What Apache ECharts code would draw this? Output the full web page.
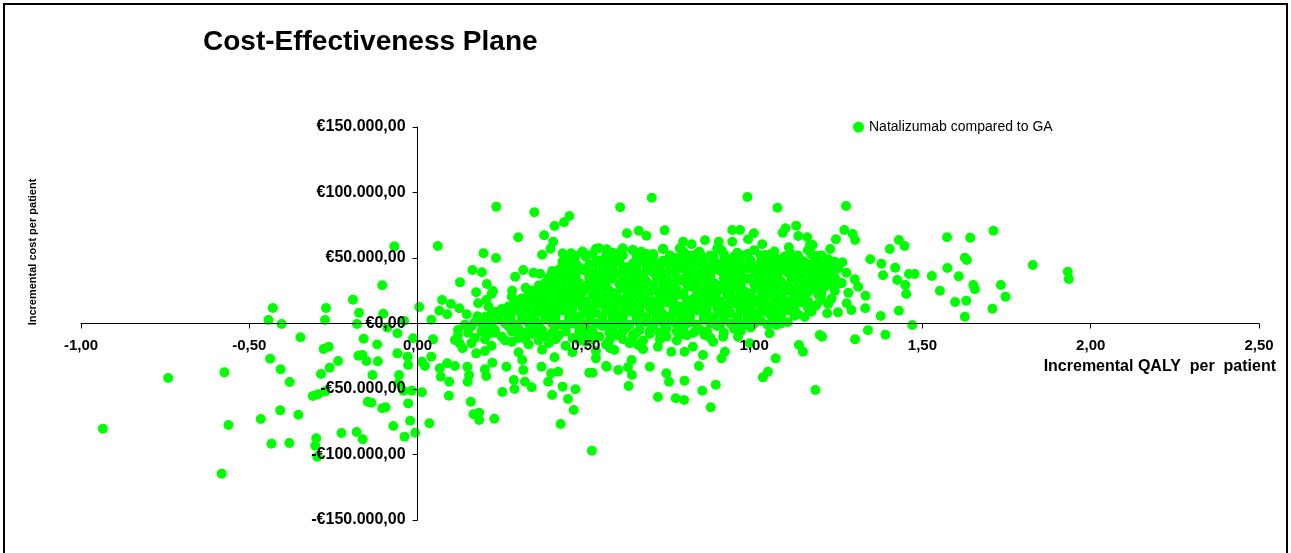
<!DOCTYPE html>
<html>
<head>
<meta charset="utf-8">
<title>Cost-Effectiveness Plane</title>
<script src="https://cdn.jsdelivr.net/npm/echarts@6/dist/echarts.min.js"></script>
<style>
  html, body { margin: 0; padding: 0; background: #fff; }
  #chart { width: 1291px; height: 553px; }
</style>
</head>
<body>
<div id="chart"></div>
<script>
// Incremental QALY vs incremental cost (cost in thousands of euro)

// axis ranges / ticks
const qalyTicks = [-1, -0.5, 0, 0.5, 1, 1.5, 2, 2.5];
const costTicks = [-150000, -100000, -50000, 0, 50000, 100000, 150000];

// dominated / less effective side
const leftTail = [
  [-0.935,-80.3],[-0.741,-41.6],[-0.574,-37.3],[-0.562,-77.5],[-0.582,-114.6],[-0.466,-72.9],
  [-0.438,-26.9],[-0.434,-91.8],[-0.43,11.8],[-0.443,2.7],[-0.404,-0.4],[-0.408,-66.3],
  [-0.407,-35],[-0.381,-91.2],[-0.38,-44.7],[-0.354,-69.6],[-0.348,-10.5],[-0.311,-55.3],
  [-0.304,-93.3],[-0.301,-87.6],[-0.298,-101.7],[-0.296,-54],[-0.287,-38.5],[-0.279,-19.5],
  [-0.275,2.7],[-0.274,-51.8],[-0.272,11.8],[-0.264,-17.7],[-0.261,-33.7],[-0.236,-28.6],
  [-0.226,-83.6],[-0.192,18.2],[-0.181,-82.8],[-0.18,-0.4],[-0.176,-24.6],[-0.174,8.3],
  [-0.164,-24],[-0.163,-88.4],[-0.16,-11.6],[-0.152,-28.6],[-0.148,-59.7],[-0.137,-60.5],
  [-0.134,-39.3],[-0.118,-28.9],[-0.12,-16],[-0.105,29.2],[-0.105,-64.7],[-0.102,7.5],
  [-0.09,-3],[-0.095,-64],[-0.072,-78.2],[-0.069,58.9],[-0.06,-7.5],[-0.06,-22.8],
  [-0.057,-45.6],[-0.055,-39.3],[-0.042,-51.3],[-0.04,2],[-0.039,-86.4],[-0.03,-25.3],
  [-0.028,-31.7],[-0.028,-61],[-0.022,-74.2],[-0.017,-51.3],[-0.013,-11.3],[-0.007,-83.4]
];

// cost saving part of the effective side
const lowerSide = [
  [0.013,-52.5],[0.013,-29.2],[0.022,-32.4],[0.035,-76.2],[0.041,-25.3],[0.046,-12.1],
  [0.066,-34.2],[0.069,-40.6],[0.088,-30.4],[0.093,-55.1],[0.094,-44.4],[0.111,-32.4],
  [0.111,-12.6],[0.125,-15.1],[0.134,-18.9],[0.148,-33],[0.149,-44.4],[0.153,-39.3],
  [0.158,-59.7],[0.166,-69.3],[0.174,-22.8],[0.183,-68.1],[0.183,-73.7],[0.2,-35],
  [0.204,-40.1],[0.222,-29.9],[0.228,-72.7],[0.252,-52.3],[0.264,-33],[0.286,-43.1],
  [0.288,-50],[0.311,-27.9],[0.314,-35.5],[0.319,-44.4],[0.339,-48.7],[0.368,-33],
  [0.388,-44.4],[0.397,-38],[0.4,-54.6],[0.407,-25.8],[0.418,-36.8],[0.425,-76.7],
  [0.431,-48.2],[0.447,-57.6],[0.464,-66],[0.469,-50.2],[0.51,-37.6],[0.518,-97.1],
  [0.52,-37.6],[0.53,-26.6],[0.56,-32.4],[0.562,-33],[0.596,-35.5],[0.572,-18.9],
  [0.585,-20.2],[0.625,-33.4],[0.637,-39.3],[0.627,-47.7],[0.636,-27.9],[0.69,-33],
  [0.714,-56.1],[0.739,-38],[0.747,-44.4],[0.767,-57.1],[0.792,-58.4],[0.793,-43.7],
  [0.846,-51.3],[0.871,-64],[0.886,-46.7],[0.836,-32.4],[0.848,-24],[0.903,-26.6],
  [0.754,-21.5],[0.793,-21.5],[0.818,-17.7],[0.714,-17.7],[0.67,-19.7],[0.655,-16.4],
  [0.562,-16.4],[0.6,-8.8],[0.64,-8.8],[0.779,-8.8],[0.853,-8.8],[0.878,-13.9],
  [0.913,-21.5],[0.908,-10.1],[0.952,-10.1],[0.987,-15.1],[1.046,-7.5],[1.064,-26.6],
  [1.041,-36.8],[1.026,-41.1],[1.133,-16.4],[1.145,-21.5],[1.182,-50.8],[1.066,-1.1],
  [1.195,-8.8],[1.202,-10.1],[1.3,-12.1],[1.338,-5.2],[1.39,-8.5],[1.47,-1.1]
];

// scattered points above the axis, left of the main cloud
const upperLeft = [
  [0.005,12.6],[0.041,2.9],[0.06,59.2],[0.065,9.8],[0.073,17.9],[0.088,7],[0.099,14.9],
  [0.124,11.6],[0.126,31.4],[0.146,7],[0.163,40.8],[0.174,23.8],[0.178,5.5],[0.18,15.4],
  [0.191,39.1],[0.196,53.6],[0.204,17.9],[0.206,30.2],[0.211,12.8],[0.22,22.5],[0.224,24.8],
  [0.233,50],[0.233,9],[0.234,89.2],[0.276,5.2],[0.28,20.5],[0.281,25],[0.286,13.6],
  [0.29,35.7],[0.299,65.8],[0.314,40.8],[0.321,27.3],[0.329,13.6],[0.343,21],[0.344,38.8],
  [0.347,84.9],[0.354,11.3],[0.364,38],[0.37,27.6],[0.37,52.5],[0.376,67.3],[0.382,17.9],
  [0.395,57.1],[0.399,27.3],[0.4,38.3],[0.403,62.4],[0.407,74.4],[0.416,22.3],[0.417,37],
  [0.429,43.4],[0.431,53.6],[0.435,77.3],[0.451,82.1],[0.451,33.2],[0.456,53.6],[0.482,42.1],
  [0.495,53.6],[0.497,26.9],[0.525,35.7],[0.539,57.4],[0.554,47.2],[0.562,56.6]
];

// top edge of the main cloud
const upperMid = [
  [0.602,88.7],[0.696,96],[0.98,96.6],[1.069,88.4],[0.622,68.9],[0.657,70.8],[0.68,67],
  [0.734,71.1],[0.789,62.4],[0.814,60.5],[0.854,63.5],[0.895,62.4],[0.935,71.4],[0.958,71.4],
  [0.935,62.4],[0.999,68.9],[1.024,60.5],[0.982,64.3],[1.093,72.7],[1.125,74.7],[1.085,69.3],
  [1.131,66.8],[1.158,65.8],[1.166,59.9],[1.103,58.2],[0.61,57.4],[0.585,51.5],[0.64,56.1],
  [0.665,54.8],[0.729,56.9],[0.779,57.4],[0.837,54.8],[0.869,51],[0.903,56.1],[0.908,47.2],
  [0.948,48.5],[1.031,52.3],[1.091,51],[1.136,48.5],[0.691,48.5],[0.574,38.3]
];

// right hand tail
const rightTail = [
  [1.273,89.7],[1.268,71.4],[1.293,68.3],[1.3,63.7],[1.243,64.3],[1.226,56.9],[1.174,59.9],
  [1.189,51.5],[1.239,47.2],[1.262,46.7],[1.274,38.8],[1.299,33.7],[1.309,28.1],[1.331,21.2],
  [1.28,23.5],[1.275,15.4],[1.289,10.3],[1.249,8.5],[1.217,7.8],[1.185,14.1],[1.185,35.7],
  [1.21,35.7],[1.234,34.5],[1.256,30.7],[1.185,28.1],[1.33,11.6],[1.345,49],[1.378,45.6],
  [1.403,56.9],[1.43,63.7],[1.447,59.2],[1.419,42.6],[1.383,36.8],[1.425,33.2],[1.449,29.4],
  [1.452,22.5],[1.46,37.8],[1.477,37.8],[1.376,5.7],[1.43,9.8],[1.573,65.8],[1.642,65.5],
  [1.711,70.8],[1.574,42.4],[1.528,36.3],[1.608,36],[1.626,50.2],[1.632,48.5],[1.552,25],
  [1.597,16.4],[1.63,17.4],[1.651,29.4],[1.656,26.1],[1.626,5.2],[1.708,11.3],[1.733,29.4],
  [1.747,20.5],[1.828,44.7],[1.932,39.5],[1.935,34]
];

// the dense core, estimated row by row
const coreCloud = [
  [0.49,55],[0.53,57],[0.58,54],[0.64,56],[0.68,53],[0.73,57],[0.79,55],[0.84,53],[0.89,57],
  [0.95,54],[1.0,56],[1.06,55],[1.11,53],[1.16,56],
  [0.45,49],[0.5,51],[0.54,48],[0.57,50],[0.61,52],[0.66,49],[0.7,51],[0.73,48],[0.77,50],
  [0.81,52],[0.85,48],[0.88,51],[0.92,49],[0.96,52],[0.99,48],[1.03,50],[1.07,49],[1.1,52],
  [1.14,48],[1.18,50],[1.22,49],
  [0.44,46],[0.48,43],[0.51,45],[0.55,44],[0.58,46],[0.62,43],[0.65,45],[0.69,46],[0.72,43],
  [0.75,45],[0.79,44],[0.82,46],[0.86,43],[0.89,45],[0.93,44],[0.96,46],[1.0,43],[1.03,45],
  [1.06,44],[1.1,46],[1.13,43],[1.17,45],[1.2,44],[1.24,43],
  [0.4,40],[0.43,37],[0.46,39],[0.5,40],[0.53,37],[0.56,39],[0.6,38],[0.63,40],[0.66,37],
  [0.7,39],[0.73,38],[0.76,40],[0.8,37],[0.83,39],[0.86,38],[0.9,40],[0.93,37],[0.96,39],
  [1.0,38],[1.03,40],[1.06,37],[1.1,39],[1.13,38],[1.16,40],[1.19,37],[1.23,39],
  [0.38,31],[0.42,33],[0.45,34],[0.48,31],[0.52,33],[0.55,32],[0.58,34],[0.62,31],[0.65,33],
  [0.68,32],[0.72,34],[0.75,31],[0.78,33],[0.82,32],[0.85,34],[0.88,31],[0.92,33],[0.95,32],
  [0.98,34],[1.02,31],[1.05,33],[1.08,32],[1.12,34],[1.15,31],[1.18,33],[1.22,32],[1.26,31],
  [0.34,25],[0.37,27],[0.41,28],[0.44,25],[0.47,27],[0.51,26],[0.54,28],[0.57,25],[0.61,27],
  [0.64,26],[0.67,28],[0.71,25],[0.74,27],[0.77,26],[0.81,28],[0.84,25],[0.87,27],[0.91,26],
  [0.94,28],[0.97,25],[1.01,27],[1.04,26],[1.07,28],[1.11,25],[1.14,27],[1.17,26],[1.21,28],
  [1.24,25],
  [0.31,19],[0.35,21],[0.38,22],[0.42,19],[0.45,21],[0.48,20],[0.52,22],[0.55,19],[0.58,21],
  [0.62,20],[0.65,22],[0.68,19],[0.72,21],[0.75,20],[0.78,22],[0.82,19],[0.85,21],[0.88,20],
  [0.92,22],[0.95,19],[0.98,21],[1.02,20],[1.05,22],[1.08,19],[1.12,21],[1.15,20],[1.19,22],
  [1.23,19],
  [0.27,13],[0.31,15],[0.34,16],[0.38,13],[0.41,15],[0.44,14],[0.48,16],[0.51,13],[0.54,15],
  [0.58,14],[0.61,16],[0.64,13],[0.68,15],[0.71,14],[0.74,16],[0.78,13],[0.81,15],[0.84,14],
  [0.88,16],[0.91,13],[0.94,15],[0.98,14],[1.01,16],[1.04,13],[1.08,15],[1.11,14],[1.14,16],
  [1.18,13],[1.22,15],
  [0.22,7],[0.26,9],[0.29,10],[0.33,7],[0.36,9],[0.4,8],[0.43,10],[0.46,7],[0.5,9],[0.53,8],
  [0.56,10],[0.6,7],[0.63,9],[0.66,8],[0.7,10],[0.73,7],[0.76,9],[0.8,8],[0.83,10],[0.86,7],
  [0.9,9],[0.93,8],[0.96,10],[1.0,7],[1.03,9],[1.07,8],[1.1,10],[1.13,7],[1.17,9],
  [0.17,1],[0.21,3],[0.24,4],[0.28,1],[0.31,3],[0.35,2],[0.38,4],[0.41,1],[0.45,3],[0.48,2],
  [0.51,4],[0.55,1],[0.58,3],[0.61,2],[0.65,4],[0.68,1],[0.71,3],[0.75,2],[0.78,4],[0.81,1],
  [0.85,3],[0.88,2],[0.91,4],[0.95,1],[0.98,3],[1.02,2],[1.06,4],[1.1,1],
  [0.12,-5],[0.16,-2],[0.2,-4],[0.23,-5],[0.27,-2],[0.3,-4],[0.34,-3],[0.37,-5],[0.41,-2],
  [0.44,-4],[0.48,-3],[0.51,-5],[0.55,-2],[0.58,-4],[0.62,-3],[0.66,-5],[0.7,-2],[0.74,-4],
  [0.79,-3],[0.84,-5],[0.89,-2],[0.94,-4],[0.99,-3],
  [0.12,-9],[0.17,-11],[0.21,-8],[0.25,-10],[0.3,-11],[0.34,-8],[0.38,-10],[0.42,-9],
  [0.46,-11],[0.5,-8],[0.54,-10],[0.59,-9],[0.64,-11],[0.69,-8],[0.74,-10],[0.8,-9],[0.87,-11],
  [0.16,-15],[0.22,-17],[0.28,-14],[0.33,-16],[0.39,-15],[0.44,-17],[0.5,-14],[0.56,-16],
  [0.63,-15],
  [0.2,-21],[0.3,-22],[0.37,-20],[0.46,-22],[0.53,-21]
];

// second pass over the core, between the rows above
const coreFill = [
  [0.47,52],[0.52,53],[0.56,52],[0.6,54],[0.65,52],[0.7,53],[0.75,52],[0.79,51],[0.83,53],
  [0.87,52],[0.91,53],[0.94,51],[0.98,53],[1.02,52],[1.05,53],[1.09,51],[1.13,52],[1.17,53],
  [1.2,52],
  [0.43,47],[0.47,46],[0.53,47],[0.57,46],[0.6,47],[0.64,46],[0.67,47],[0.71,46],[0.74,47],
  [0.77,46],[0.8,47],[0.84,46],[0.88,47],[0.91,46],[0.95,47],[0.98,46],[1.02,47],[1.05,46],
  [1.08,47],[1.12,46],[1.15,47],[1.19,46],[1.22,47],
  [0.42,41],[0.45,42],[0.49,41],[0.52,42],[0.55,41],[0.58,42],[0.61,41],[0.65,42],[0.68,41],
  [0.71,42],[0.75,41],[0.78,42],[0.81,41],[0.85,42],[0.88,41],[0.92,42],[0.95,41],[0.98,42],
  [1.02,41],[1.05,42],[1.08,41],[1.12,42],[1.15,41],[1.18,42],[1.21,41],[1.25,42],
  [0.39,35],[0.41,36],[0.44,35],[0.47,36],[0.51,35],[0.54,36],[0.57,35],[0.61,36],[0.64,35],
  [0.67,36],[0.71,35],[0.74,36],[0.77,35],[0.81,36],[0.84,35],[0.87,36],[0.91,35],[0.94,36],
  [0.97,35],[1.01,36],[1.04,35],[1.07,36],[1.11,35],[1.14,36],[1.17,35],[1.21,36],[1.24,35],
  [0.36,29],[0.4,30],[0.43,29],[0.46,30],[0.5,29],[0.53,30],[0.56,29],[0.6,30],[0.63,29],
  [0.66,30],[0.7,29],[0.73,30],[0.76,29],[0.8,30],[0.83,29],[0.86,30],[0.9,29],[0.93,30],
  [0.96,29],[1.0,30],[1.03,29],[1.06,30],[1.1,29],[1.13,30],[1.16,29],[1.2,30],[1.23,29],
  [0.33,23],[0.36,24],[0.39,23],[0.43,24],[0.46,23],[0.49,24],[0.53,23],[0.56,24],[0.59,23],
  [0.63,24],[0.66,23],[0.69,24],[0.73,23],[0.76,24],[0.79,23],[0.83,24],[0.86,23],[0.89,24],
  [0.93,23],[0.96,24],[0.99,23],[1.03,24],[1.06,23],[1.09,24],[1.13,23],[1.16,24],[1.2,23],
  [0.29,17],[0.33,18],[0.36,17],[0.4,18],[0.43,17],[0.46,18],[0.5,17],[0.53,18],[0.56,17],
  [0.6,18],[0.63,17],[0.66,18],[0.7,17],[0.73,18],[0.76,17],[0.8,18],[0.83,17],[0.86,18],
  [0.9,17],[0.93,18],[0.96,17],[1.0,18],[1.03,17],[1.06,18],[1.1,17],[1.13,18],[1.16,17],
  [1.2,18],
  [0.25,11],[0.29,12],[0.32,11],[0.36,12],[0.39,11],[0.42,12],[0.46,11],[0.49,12],[0.52,11],
  [0.56,12],[0.59,11],[0.62,12],[0.66,11],[0.69,12],[0.72,11],[0.76,12],[0.79,11],[0.82,12],
  [0.86,11],[0.89,12],[0.92,11],[0.96,12],[0.99,11],[1.02,12],[1.06,11],[1.09,12],[1.12,11],
  [1.16,12],
  [0.2,5],[0.24,6],[0.27,5],[0.31,6],[0.34,5],[0.38,6],[0.41,5],[0.45,6],[0.48,5],[0.51,6],
  [0.55,5],[0.58,6],[0.61,5],[0.65,6],[0.68,5],[0.71,6],[0.75,5],[0.78,6],[0.81,5],[0.85,6],
  [0.88,5],[0.91,6],[0.95,5],[0.98,6],[1.01,5],[1.05,6],[1.08,5],[1.12,6],[1.15,5],
  [0.14,-1],[0.19,0],[0.22,-1],[0.26,0],[0.29,-1],[0.33,0],[0.36,-1],[0.4,0],[0.43,-1],
  [0.46,0],[0.5,-1],[0.53,0],[0.56,-1],[0.6,0],[0.63,-1],[0.66,0],[0.7,-1],[0.73,0],[0.77,-1],
  [0.8,0],[0.83,-1],[0.87,0],[0.9,-1],[0.93,0],[0.97,-1],[1.0,0],[1.04,-1],[1.08,0],
  [0.15,-7],[0.19,-6],[0.23,-7],[0.28,-6],[0.32,-7],[0.36,-6],[0.4,-7],[0.44,-6],[0.48,-7],
  [0.52,-6],[0.57,-7],[0.61,-6],[0.65,-7],[0.69,-6],[0.72,-7],[0.77,-6],[0.82,-7],[0.86,-6],
  [0.91,-7],[0.96,-6],
  [0.2,-12],[0.26,-13],[0.32,-12],[0.36,-13],[0.41,-12],[0.48,-13],[0.52,-12],[0.57,-13],
  [0.61,-12],[0.67,-13],[0.72,-12],[0.77,-13]
];

const seriesName = 'Natalizumab compared to GA';
const FONT = '"Liberation Sans", Arial, Helvetica, sans-serif';

// plot box in pixels
const GRID = { left: 81, top: 127, width: 1178, height: 393 };

const xMin = qalyTicks[0], xMax = qalyTicks[qalyTicks.length - 1];
const yMin = costTicks[0], yMax = costTicks[costTicks.length - 1];
// axes cross at zero: shift the left / bottom axes in to the zero lines
const yAxisShift = GRID.width * (0 - xMin) / (xMax - xMin);
const xAxisShift = GRID.height * (0 - yMin) / (yMax - yMin);

const points = []
  .concat(leftTail, lowerSide, upperLeft, upperMid, rightTail, coreCloud, coreFill)
  .map(p => [p[0], p[1] * 1000]);

function euro(v) {
  const sign = v < 0 ? '-' : '';
  const whole = String(Math.round(Math.abs(v))).replace(/\B(?=(\d{3})+(?!\d))/g, '.');
  return sign + '€' + whole + ',00';
}

const chart = echarts.init(document.getElementById('chart'));

chart.setOption({
  animation: false,
  backgroundColor: '#ffffff',
  textStyle: { fontFamily: FONT },
  title: {
    text: 'Cost-Effectiveness Plane',
    left: 198,
    top: 23,
    textStyle: { fontFamily: FONT, fontSize: 28, fontWeight: 'bold', color: '#000' }
  },
  legend: {
    data: [seriesName],
    left: 853,
    top: 120,
    padding: 0,
    icon: 'circle',
    itemWidth: 11,
    itemHeight: 11,
    itemGap: 4,
    textStyle: { fontFamily: FONT, fontSize: 14, color: '#000' }
  },
  grid: {
    left: GRID.left,
    top: GRID.top,
    width: GRID.width,
    height: GRID.height,
    containLabel: false,
    outerBoundsMode: 'none'
  },
  xAxis: {
    type: 'value',
    position: 'bottom',
    offset: -xAxisShift,
    z: 5,
    min: xMin,
    max: xMax,
    interval: 0.5,
    axisLine: { onZero: false, lineStyle: { color: '#000', width: 1 } },
    axisTick: { show: true, length: 5, lineStyle: { color: '#000' } },
    axisLabel: {
      margin: 15,
      color: '#000',
      fontFamily: FONT,
      fontSize: 15,
      fontWeight: 'bold',
      formatter: v => v.toFixed(2).replace('.', ',')
    },
    splitLine: { show: false }
  },
  yAxis: {
    type: 'value',
    position: 'left',
    offset: -yAxisShift,
    z: 5,
    min: yMin,
    max: yMax,
    interval: 50000,
    axisLine: { onZero: false, lineStyle: { color: '#000', width: 1 } },
    axisTick: { show: true, length: 5, lineStyle: { color: '#000' } },
    axisLabel: {
      margin: 12,
      color: '#000',
      fontFamily: FONT,
      fontSize: 16,
      fontWeight: 'bold',
      formatter: euro
    },
    splitLine: { show: false }
  },
  graphic: [
    {
      type: 'rect',
      shape: { x: 4, y: 4, width: 1283, height: 560 },
      style: { fill: null, stroke: '#000', lineWidth: 2 },
      silent: true
    },
    {
      type: 'text',
      x: 1276,
      y: 367,
      style: {
        text: 'Incremental QALY  per  patient',
        font: 'bold 16px ' + FONT,
        fill: '#000',
        align: 'right',
        verticalAlign: 'middle'
      }
    },
    {
      type: 'text',
      x: 33,
      y: 252,
      rotation: Math.PI / 2,
      style: {
        text: 'Incremental cost per patient',
        font: 'bold 11px ' + FONT,
        fill: '#000',
        align: 'center',
        verticalAlign: 'middle'
      }
    }
  ],
  series: [
    {
      name: seriesName,
      type: 'scatter',
      symbol: 'circle',
      symbolSize: 10,
      z: 2,
      itemStyle: { color: '#00ff00', opacity: 1 },
      emphasis: { disabled: true },
      data: points
    }
  ]
});
</script>
</body>
</html>
